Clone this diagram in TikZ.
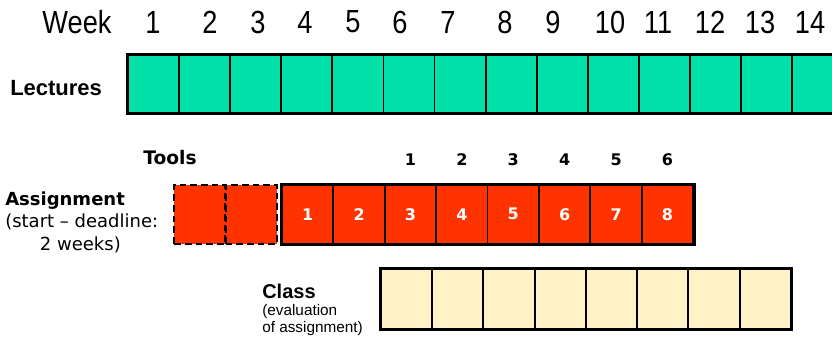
\documentclass[tikz,border=0pt]{standalone}
\usepackage{fontspec}
\setmainfont{DejaVu Sans}
\newfontfamily\narrowfont[FakeStretch=0.85]{Liberation Sans}
\newfontfamily\arialfont{Liberation Sans}
\usetikzlibrary{positioning}
\definecolor{lecgreen}{HTML}{00E0A8}
\definecolor{asgred}{HTML}{FF3300}
\definecolor{clscream}{HTML}{FFF2C6}

\begin{document}
\begin{tikzpicture}[x=0.75pt,y=-0.75pt,
  cell/.style={draw,line width=1.4pt,minimum width=38.4pt,minimum height=43.5pt,
    inner sep=0pt,anchor=north west,text=white,
    font=\bfseries\fontsize{12}{14}\selectfont},
  lec/.style={cell,fill=lecgreen},
  asg/.style={cell,fill=asgred,minimum width=38.6pt,minimum height=44pt},
  tool/.style={asg,dashed,line width=1.8pt,dash pattern=on 5pt off 3pt},
  cls/.style={cell,fill=clscream,minimum height=45pt},
  frame/.style={line width=2.2pt},
  weeklab/.style={font=\narrowfont\fontsize{24}{26}\selectfont},
  rowlab/.style={anchor=west,align=left,inner sep=0pt},
  numlab/.style={font=\bfseries\fontsize{12}{14}\selectfont}]
  \useasboundingbox (0,0) rectangle (832,341);
  % week numbers
  \node[weeklab] (week) at (77,22) {Week};
  \foreach \i/\xc in {1/153,2/210,3/258,4/305,5/353,6/400,7/448,8/505,9/553,10/610,11/658,12/710,13/760,14/810}
    \node[weeklab] (w\i) at (\xc,22) {\i};
  % lectures
  \foreach \i in {1,...,14}
    \node[lec] (lec\i) at ({127+51.1*(\i-1)},54) {};
  \draw[frame] (lec1.north west) rectangle (lec14.south east);
  \node[rowlab,font=\arialfont\bfseries\fontsize{16.5}{18}\selectfont] (lectures) at (10,88) {Lectures};
  % assignments
  \node[tool] (tool1) at (173,184) {};
  \node[tool] (tool2) at (224.5,184) {};
  \node[numlab,font=\bfseries\fontsize{14}{16}\selectfont] (tools) at (170,158) {Tools};
  \foreach \i in {1,...,8}
    \node[asg] (asg\i) at ({281+51.4*(\i-1)},184) {\i};
  \draw[frame] (asg1.north west) rectangle (asg8.south east);
  \foreach \i [evaluate=\i as \j using int(\i+2)] in {1,...,6}
    \node[numlab,above=10pt of asg\j] (a\i) {\i};
  \node[rowlab,font=\fontsize{13.5}{16.8}\selectfont] (assignment) at (5,222)
    {\textbf{Assignment}\\(start – deadline:\\\hspace*{26pt}2 weeks)};
  % class
  \foreach \i in {1,...,8}
    \node[cls] (cls\i) at ({380+51.25*(\i-1)},268) {};
  \draw[frame] (cls1.north west) rectangle (cls8.south east);
  \node[rowlab,font=\arialfont\fontsize{11.5}{12.8}\selectfont] (class) at (262,310)
    {{\bfseries\fontsize{15}{17}\selectfont Class}\\(evaluation\\of assignment)};
\end{tikzpicture}
\end{document}
